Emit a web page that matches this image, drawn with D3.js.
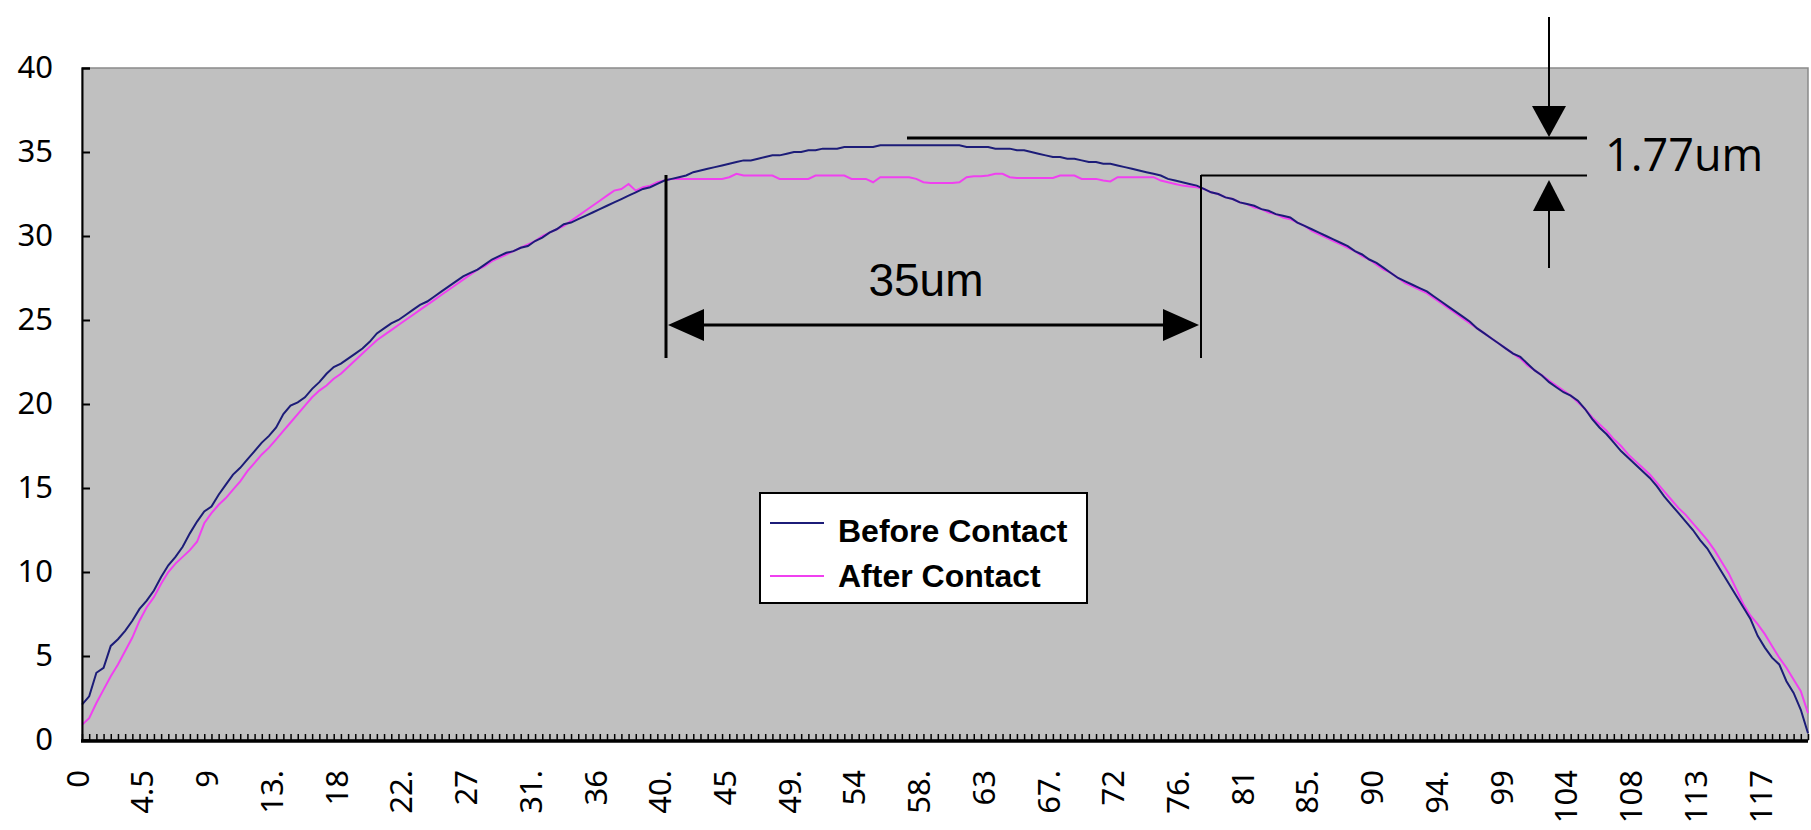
<!DOCTYPE html>
<html lang="en">
<head>
    <meta charset="UTF-8">
    <title>Before / After Contact profile</title>
    <script src="https://d3js.org/d3.v7.min.js"></script>
    <style>
        body { margin: 0; background: #fff; }
        svg { display: block; }
        .tick text { font-family: "Noto Sans", sans-serif; font-size: 31px; fill: #000; }
        .legend text { font-family: "Liberation Sans", Arial, sans-serif; font-weight: bold; font-size: 32px; }
    </style>
</head>
<body>
<svg width="1811" height="830"></svg>

<script>
    // x categories: 0 .. 120 in steps of 0.5
    const categories = d3.range(0, 120.5, 0.5);

    // Before Contact, one value per category (rows of 10 = 5 units)
    const beforeContact = [
        2.1, 2.6, 4.0, 4.3, 5.6, 6.0, 6.5, 7.1, 7.8, 8.3,
        8.9, 9.7, 10.4, 10.9, 11.5, 12.3, 13.0, 13.6, 13.9, 14.6,
        15.2, 15.8, 16.2, 16.7, 17.2, 17.7, 18.1, 18.6, 19.4, 19.9,
        20.1, 20.4, 20.9, 21.3, 21.8, 22.2, 22.4, 22.7, 23.0, 23.3,
        23.7, 24.2, 24.5, 24.8, 25.0, 25.3, 25.6, 25.9, 26.1, 26.4,
        26.7, 27.0, 27.3, 27.6, 27.8, 28.0, 28.3, 28.6, 28.8, 29.0,
        29.1, 29.3, 29.4, 29.7, 29.9, 30.2, 30.4, 30.7, 30.8, 31.0,
        31.2, 31.4, 31.6, 31.8, 32.0, 32.2, 32.4, 32.6, 32.8, 32.9,
        33.1, 33.3, 33.4, 33.5, 33.6, 33.8, 33.9, 34.0, 34.1, 34.2,
        34.3, 34.4, 34.5, 34.5, 34.6, 34.7, 34.8, 34.8, 34.9, 35.0,
        35.0, 35.1, 35.1, 35.2, 35.2, 35.2, 35.3, 35.3, 35.3, 35.3,
        35.3, 35.4, 35.4, 35.4, 35.4, 35.4, 35.4, 35.4, 35.4, 35.4,
        35.4, 35.4, 35.4, 35.3, 35.3, 35.3, 35.3, 35.2, 35.2, 35.2,
        35.1, 35.1, 35.0, 34.9, 34.8, 34.7, 34.7, 34.6, 34.6, 34.5,
        34.4, 34.4, 34.3, 34.3, 34.2, 34.1, 34.0, 33.9, 33.8, 33.7,
        33.6, 33.4, 33.3, 33.2, 33.1, 33.0, 32.8, 32.6, 32.5, 32.3,
        32.2, 32.0, 31.9, 31.8, 31.6, 31.5, 31.3, 31.2, 31.1, 30.8,
        30.6, 30.4, 30.2, 30.0, 29.8, 29.6, 29.4, 29.1, 28.9, 28.6,
        28.4, 28.1, 27.8, 27.5, 27.3, 27.1, 26.9, 26.7, 26.4, 26.1,
        25.8, 25.5, 25.2, 24.9, 24.5, 24.2, 23.9, 23.6, 23.3, 23.0,
        22.8, 22.4, 22.0, 21.7, 21.3, 21.0, 20.7, 20.5, 20.2, 19.7,
        19.1, 18.6, 18.2, 17.7, 17.2, 16.8, 16.4, 16.0, 15.6, 15.1,
        14.5, 14.0, 13.5, 13.0, 12.5, 11.9, 11.4, 10.7, 10.0, 9.3,
        8.6, 7.9, 7.2, 6.2, 5.5, 4.9, 4.5, 3.5, 2.8, 1.8,
        0.4
    ];

    // After Contact
    const afterContact = [
        0.9, 1.3, 2.2, 3.0, 3.8, 4.5, 5.3, 6.1, 7.1, 7.9,
        8.5, 9.3, 10.0, 10.5, 10.9, 11.3, 11.8, 12.9, 13.5, 14.0,
        14.4, 14.9, 15.4, 16.0, 16.5, 17.0, 17.4, 17.9, 18.4, 18.9,
        19.4, 19.9, 20.4, 20.8, 21.1, 21.5, 21.8, 22.2, 22.6, 23.0,
        23.4, 23.8, 24.1, 24.4, 24.7, 25.0, 25.3, 25.6, 25.9, 26.2,
        26.5, 26.8, 27.1, 27.4, 27.7, 28.0, 28.2, 28.5, 28.7, 28.9,
        29.1, 29.3, 29.5, 29.7, 30.0, 30.2, 30.4, 30.6, 30.9, 31.2,
        31.5, 31.8, 32.1, 32.4, 32.7, 32.8, 33.1, 32.7, 32.9, 33.0,
        33.2, 33.3, 33.4, 33.4, 33.4, 33.4, 33.4, 33.4, 33.4, 33.4,
        33.5, 33.7, 33.6, 33.6, 33.6, 33.6, 33.6, 33.4, 33.4, 33.4,
        33.4, 33.4, 33.6, 33.6, 33.6, 33.6, 33.6, 33.4, 33.4, 33.4,
        33.2, 33.5, 33.5, 33.5, 33.5, 33.5, 33.4, 33.2, 33.15, 33.15,
        33.15, 33.15, 33.2, 33.5, 33.55, 33.55, 33.6, 33.7, 33.7, 33.5,
        33.45, 33.45, 33.45, 33.45, 33.45, 33.45, 33.6, 33.6, 33.6, 33.4,
        33.4, 33.4, 33.3, 33.25, 33.5, 33.5, 33.5, 33.5, 33.5, 33.5,
        33.3, 33.2, 33.1, 33.0, 32.95, 32.9, 32.8, 32.6, 32.5, 32.3,
        32.2, 32.0, 31.9, 31.7, 31.6, 31.4, 31.3, 31.1, 31.0, 30.8,
        30.6, 30.3, 30.1, 29.9, 29.7, 29.5, 29.3, 29.1, 28.8, 28.6,
        28.3, 28.0, 27.8, 27.5, 27.2, 27.0, 26.8, 26.6, 26.3, 26.0,
        25.7, 25.4, 25.1, 24.8, 24.5, 24.2, 23.9, 23.6, 23.3, 23.0,
        22.7, 22.3, 22.0, 21.7, 21.4, 21.1, 20.8, 20.5, 20.1, 19.7,
        19.2, 18.8, 18.4, 17.9, 17.5, 17.0, 16.6, 16.2, 15.8, 15.3,
        14.8, 14.3, 13.8, 13.4, 12.9, 12.4, 11.9, 11.3, 10.6, 9.9,
        9.0, 8.1, 7.4, 6.9, 6.3, 5.6, 4.9, 4.3, 3.6, 2.9,
        1.6
    ];

    // category labels, shown on every 9th category (as Excel truncated them)
    const xTickLabels = ["0", "4.5", "9", "13.", "18", "22.", "27", "31.", "36", "40.",
        "45", "49.", "54", "58.", "63", "67.", "72", "76.", "81", "85.",
        "90", "94.", "99", "104", "108", "113", "117"];
    const yTicks = [0, 5, 10, 15, 20, 25, 30, 35, 40];

    const seriesNames = ["Before Contact", "After Contact"];
    const seriesColors = ["#1c1c78", "#f040f0"];

    const svg = d3.select("svg");
    const plotLeft = 82, plotRight = 1808, plotTop = 68, plotBottom = 740;

    const x = d3.scaleLinear().domain([0, 120]).range([plotLeft, plotRight]);
    const y = d3.scaleLinear().domain([0, 40]).range([plotBottom, plotTop]);

    // plot area
    svg.append("rect")
        .attr("x", plotLeft).attr("y", plotTop)
        .attr("width", plotRight - plotLeft).attr("height", plotBottom - plotTop)
        .attr("fill", "#c0c0c0")
        .attr("stroke", "#8a8a8a").attr("stroke-width", 1.5);

    // series (pink under, navy on top)
    const line = d3.line()
        .x((d, i) => x(categories[i]))
        .y(d => y(d));

    svg.append("path")
        .datum(afterContact)
        .attr("fill", "none")
        .attr("stroke", seriesColors[1])
        .attr("stroke-width", 2)
        .attr("d", line);

    svg.append("path")
        .datum(beforeContact)
        .attr("fill", "none")
        .attr("stroke", seriesColors[0])
        .attr("stroke-width", 2)
        .attr("d", line);

    // category tick marks (one per category, pointing into the plot)
    const xMinor = svg.append("g")
        .attr("transform", `translate(0,${plotBottom})`)
        .call(d3.axisBottom(x).tickValues(categories).tickSize(-6).tickFormat(""));
    xMinor.select(".domain").remove();
    xMinor.selectAll(".tick line").attr("stroke", "#000").attr("stroke-width", 1.5);

    // category labels
    const labelCats = categories.filter((d, i) => i % 9 === 0);
    const xLabels = svg.append("g")
        .attr("transform", `translate(0,${plotBottom})`)
        .call(d3.axisBottom(x).tickValues(labelCats).tickSize(0)
            .tickFormat((d, i) => xTickLabels[i]));
    xLabels.select(".domain").remove();
    xLabels.selectAll(".tick text")
        .attr("transform", "rotate(-90)")
        .attr("x", -30)
        .attr("y", 0)
        .attr("dy", "0.2em")
        .style("text-anchor", "end");

    svg.append("line")
        .attr("x1", plotLeft - 1).attr("x2", plotRight)
        .attr("y1", plotBottom + 1).attr("y2", plotBottom + 1)
        .attr("stroke", "#000").attr("stroke-width", 3.5);

    // y axis
    const yAxis = svg.append("g")
        .attr("transform", `translate(${plotLeft},0)`)
        .call(d3.axisLeft(y).tickValues(yTicks).tickSize(-8).tickPadding(29));
    yAxis.select(".domain").attr("stroke", "#000").attr("stroke-width", 2);
    yAxis.selectAll(".tick line").attr("stroke", "#000").attr("stroke-width", 2);

    // legend
    const legend = svg.append("g").attr("class", "legend");
    legend.append("rect")
        .attr("x", 760).attr("y", 493).attr("width", 327).attr("height", 110)
        .attr("fill", "#fff").attr("stroke", "#000").attr("stroke-width", 2);
    const legendRows = [{ ly: 523, ty: 542 }, { ly: 576, ty: 587 }];
    seriesNames.forEach((name, i) => {
        legend.append("line")
            .attr("x1", 770).attr("x2", 824)
            .attr("y1", legendRows[i].ly).attr("y2", legendRows[i].ly)
            .attr("stroke", seriesColors[i]).attr("stroke-width", 2);
        legend.append("text")
            .attr("x", 838).attr("y", legendRows[i].ty)
            .attr("fill", "#000")
            .text(name);
    });

    // dimension annotations
    const ann = svg.append("g").attr("fill", "#000").attr("stroke", "#000");

    ann.append("line").attr("x1", 907).attr("x2", 1587).attr("y1", 138).attr("y2", 138).attr("stroke-width", 3);
    ann.append("line").attr("x1", 1201).attr("x2", 1587).attr("y1", 175.5).attr("y2", 175.5).attr("stroke-width", 2);
    ann.append("line").attr("x1", 666).attr("x2", 666).attr("y1", 175).attr("y2", 358).attr("stroke-width", 3);
    ann.append("line").attr("x1", 1201).attr("x2", 1201).attr("y1", 175).attr("y2", 358).attr("stroke-width", 2);

    // horizontal double arrow
    ann.append("line").attr("x1", 690).attr("x2", 1180).attr("y1", 325).attr("y2", 325).attr("stroke-width", 3);
    ann.append("path").attr("stroke", "none").attr("d", "M668,325 L704,309 L704,341 Z");
    ann.append("path").attr("stroke", "none").attr("d", "M1199,325 L1163,309 L1163,341 Z");

    // vertical arrows
    ann.append("line").attr("x1", 1549).attr("x2", 1549).attr("y1", 17).attr("y2", 110).attr("stroke-width", 2);
    ann.append("path").attr("stroke", "none").attr("d", "M1532,106 L1566,106 L1549,137 Z");
    ann.append("line").attr("x1", 1549).attr("x2", 1549).attr("y1", 205).attr("y2", 268).attr("stroke-width", 2);
    ann.append("path").attr("stroke", "none").attr("d", "M1549,180 L1533,211 L1565,211 Z");

    svg.append("text")
        .attr("x", 926).attr("y", 296)
        .attr("text-anchor", "middle")
        .style("font-family", "'Liberation Sans', Arial, sans-serif")
        .style("font-size", "46px")
        .text("35um");

    svg.append("text")
        .attr("x", 1605).attr("y", 171)
        .style("font-family", "'Open Sans', sans-serif")
        .style("font-size", "45px")
        .text("1.77um");
</script>
</body>
</html>
